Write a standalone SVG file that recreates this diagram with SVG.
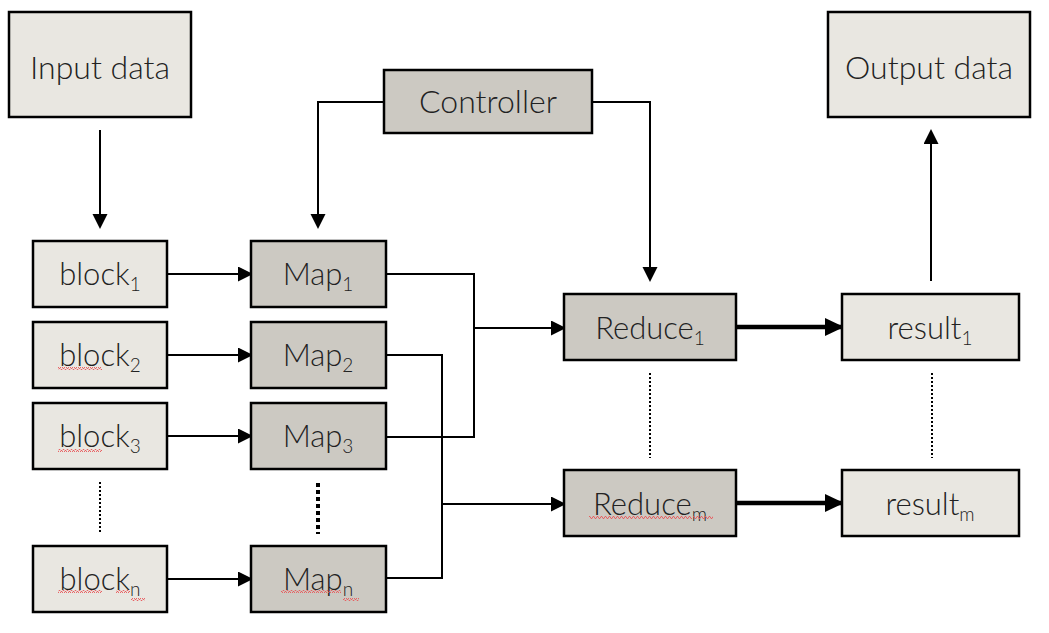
<svg xmlns="http://www.w3.org/2000/svg" width="1049" height="633" viewBox="0 0 1049 633">
<defs>
<style>
.light{fill:#e9e7e1;stroke:#000;stroke-width:2.5}
.dark{fill:#ccc9c2;stroke:#000;stroke-width:2.5}
.lbl{font-family:"Lato","Open Sans","Liberation Sans",sans-serif;font-weight:300;font-size:31px;fill:#222;text-anchor:middle}
.big{font-size:32px}
.sub{font-size:19px}
.c{fill:none;stroke:#000;stroke-width:2}
.ct{fill:none;stroke:#000;stroke-width:4.5}
.dot{fill:none;stroke:#000;stroke-width:2;stroke-dasharray:2 2}
.dotb{fill:none;stroke:#000;stroke-width:4;stroke-dasharray:4 3}
.sq{fill:url(#squig)}
</style>
<marker id="ah" markerUnits="userSpaceOnUse" markerWidth="16" markerHeight="16" refX="13" refY="7.5" orient="auto">
<path d="M0,0 L15,7.5 L0,15 z" fill="#000"/>
</marker>
<marker id="ahb" markerUnits="userSpaceOnUse" markerWidth="20" markerHeight="20" refX="17" refY="9" orient="auto">
<path d="M0,0 L19,9 L0,18 z" fill="#000"/>
</marker>
<pattern id="squig" patternUnits="userSpaceOnUse" width="4" height="3">
<path d="M0,2.5 L1,0.5 L2,0.5 L3,2.5 L4,2.5" fill="none" stroke="#e8585a" stroke-width="0.9"/>
</pattern>
</defs>
<rect width="1049" height="633" fill="#fff"/>

<g id="connectors">
<path class="c" d="M100,130 V227" marker-end="url(#ah)"/>
<path class="c" d="M384,102 H318 V227" marker-end="url(#ah)"/>
<path class="c" d="M592,102 H650 V280" marker-end="url(#ah)"/>
<path class="c" d="M931,281 V131" marker-end="url(#ah)"/>
<path class="c" d="M167,274 H251" marker-end="url(#ah)"/>
<path class="c" d="M167,355 H251" marker-end="url(#ah)"/>
<path class="c" d="M167,436 H251" marker-end="url(#ah)"/>
<path class="c" d="M167,579 H251" marker-end="url(#ah)"/>
<path class="c" d="M386,274 H474 V437 H386"/>
<path class="c" d="M474,328 H564" marker-end="url(#ah)"/>
<path class="c" d="M386,355 H442 V578 H386"/>
<path class="c" d="M442,504 H564" marker-end="url(#ah)"/>
<path class="ct" d="M736,327 H842" marker-end="url(#ahb)"/>
<path class="ct" d="M736,503 H842" marker-end="url(#ahb)"/>
<path class="dot" d="M100,482 V532"/>
<path class="dotb" d="M318,483 V534"/>
<path class="dot" d="M650,373 V458"/>
<path class="dot" d="M932,373 V458"/>
</g>

<g id="input"><rect class="light" x="9" y="12" width="182" height="105"/><text class="lbl big" x="100" y="79">Input data</text></g>
<g id="output"><rect class="light" x="828" y="12" width="202" height="105"/><text class="lbl big" x="929" y="79">Output data</text></g>
<g id="controller"><rect class="dark" x="384" y="70" width="208" height="63"/><text class="lbl big" x="488" y="113">Controller</text></g>

<g id="block1"><rect class="light" x="33" y="241" width="134" height="66"/><text class="lbl" x="100" y="285">block<tspan class="sub" dy="6">1</tspan></text></g>
<g id="block2"><rect class="light" x="33" y="322" width="134" height="66"/><text class="lbl" x="100" y="366">block<tspan class="sub" dy="6">2</tspan></text><rect class="sq" x="58" y="367" width="44" height="3"/></g>
<g id="block3"><rect class="light" x="33" y="403" width="134" height="66"/><text class="lbl" x="100" y="447">block<tspan class="sub" dy="6">3</tspan></text><rect class="sq" x="58" y="449" width="44" height="3"/></g>
<g id="blockn"><rect class="light" x="33" y="546" width="134" height="66"/><text class="lbl" x="100" y="590">block<tspan class="sub" dy="6">n</tspan></text><rect class="sq" x="58" y="590" width="44" height="3"/><rect class="sq" x="116" y="590" width="14" height="3"/><rect class="sq" x="131" y="598" width="14" height="3"/></g>

<g id="map1"><rect class="dark" x="251" y="241" width="135" height="66"/><text class="lbl" x="318" y="285">Map<tspan class="sub" dy="6">1</tspan></text></g>
<g id="map2"><rect class="dark" x="251" y="322" width="135" height="66"/><text class="lbl" x="318" y="366">Map<tspan class="sub" dy="6">2</tspan></text></g>
<g id="map3"><rect class="dark" x="251" y="403" width="135" height="66"/><text class="lbl" x="318" y="447">Map<tspan class="sub" dy="6">3</tspan></text></g>
<g id="mapn"><rect class="dark" x="251" y="546" width="135" height="66"/><text class="lbl" x="318" y="590">Map<tspan class="sub" dy="6">n</tspan></text><rect class="sq" x="281" y="590" width="60" height="3"/><rect class="sq" x="343" y="598" width="16" height="3"/></g>

<g id="reduce1"><rect class="dark" x="564" y="294" width="172" height="66"/><text class="lbl" x="650" y="339">Reduce<tspan class="sub" dy="6">1</tspan></text></g>
<g id="reducem"><rect class="dark" x="564" y="470" width="172" height="66"/><text class="lbl" x="650" y="515">Reduce<tspan class="sub" dy="6">m</tspan></text><rect class="sq" x="589" y="516" width="103" height="3"/><rect class="sq" x="693" y="516" width="20" height="3"/></g>

<g id="result1"><rect class="light" x="842" y="294" width="177" height="66"/><text class="lbl" x="930" y="339">result<tspan class="sub" dy="6">1</tspan></text></g>
<g id="resultm"><rect class="light" x="842" y="470" width="177" height="66"/><text class="lbl" x="930" y="515">result<tspan class="sub" dy="6">m</tspan></text></g>
</svg>
